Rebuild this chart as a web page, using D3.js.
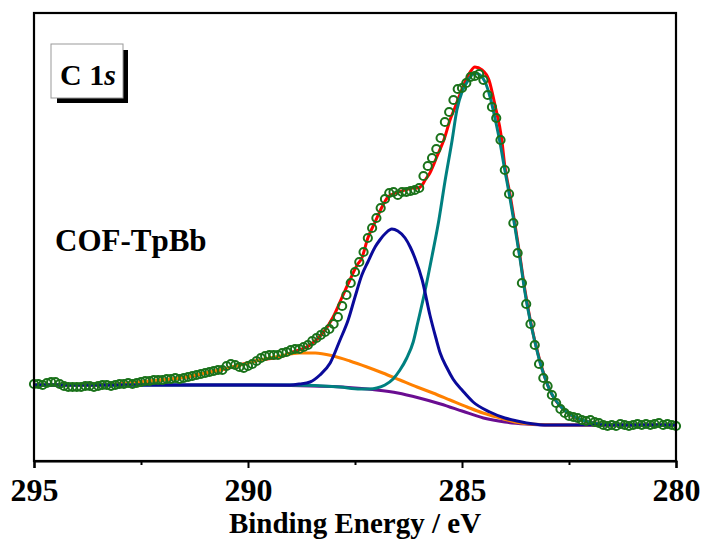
<!DOCTYPE html>
<html>
<head>
<meta charset="utf-8">
<script src="https://cdn.jsdelivr.net/npm/d3@7"></script>
<style>
  body { margin: 0; background: #fff; }
  text { font-family: "Liberation Serif", "Times New Roman", serif; font-weight: bold; }
</style>
</head>
<body>
<div id="chart"></div>
<script>
// measured spectrum: 0.1 eV steps from 295 eV down to 280 eV
const startEnergy = 295;
const stepEnergy = 0.1;
const measured = [
  77, 77, 76, 78, 79, 79, 77, 75, 74, 74,
  74, 74, 75, 75, 74, 75, 76, 76, 75, 76,
  77, 77, 78, 77, 78, 79, 80, 80, 81, 81,
  81, 82, 82, 83, 82, 83, 84, 85, 86, 87,
  88, 89, 90, 91, 91, 95, 97, 96, 94, 93,
  95, 97, 100, 103, 105, 106, 106, 106, 108, 109,
  111, 112, 112, 114, 116, 120, 123, 126, 129, 132,
  137, 144, 155, 166, 178, 189, 199, 209, 223, 233,
  243, 253, 262, 268, 269, 266, 269, 269, 270, 271,
  273, 285, 295, 303, 312, 323, 339, 349, 361, 372,
  373, 378, 384, 385, 387, 381, 366, 354, 343, 321,
  291, 267, 238, 208, 178, 157, 137, 116, 97, 83,
  75, 66, 58, 52, 48, 45, 44, 43, 41, 40,
  41, 39, 38, 36, 35, 36, 35, 37, 36, 35,
  36, 37, 36, 37, 36, 37, 38, 36, 37, 36, 35
];

// fitted curves (energy knots, intensity)
const bgE = [295, 290, 289, 288, 287.5, 287, 286.5, 286, 285.5, 285, 284.5, 284, 283.5, 283, 280];
const bgI = [76, 76, 75.5, 74.5, 73, 71, 68, 63, 57, 50, 43, 39, 37, 36, 36];

const orangeE = [295, 293.46, 292.99, 292.52, 292.06, 291.59, 291.12, 290.65, 290.19, 289.72, 289.25, 288.79, 288.43, 288.01, 287.62, 287.22, 286.85, 286.45, 286.05, 285.68, 285.28, 284.88, 284.51, 284.11, 283.76, 283.41, 282.71, 280];
const orangeI = [76, 76, 77, 79, 81, 83, 87, 91, 96, 101, 105, 108, 108, 105, 100, 94, 88, 81, 74, 68, 61, 54, 48, 43, 39, 37, 36, 36];

const blueE = [295, 289.25, 289.02, 288.79, 288.55, 288.32, 288.08, 287.85, 287.66, 287.5, 287.34, 287.2, 287.03, 286.92, 286.78, 286.64, 286.5, 286.33, 286.21, 286.1, 285.93, 285.75, 285.61, 285.51, 285.35, 285.21, 284.98, 284.74, 284.35, 284.0, 283.71, 283.06, 280];
const blueI = [76, 76, 76, 77, 79, 86, 98, 121, 141, 164, 186, 199, 214, 221, 228, 232, 230, 223, 214, 203, 181, 146, 123, 108, 93, 82, 70, 59, 49, 43, 40, 36, 36];

const tealE = [295, 289.02, 287.85, 287.38, 287.15, 286.99, 286.8, 286.61, 286.45, 286.29, 286.14, 286.03, 285.86, 285.7, 285.54, 285.4, 285.23, 285.12, 285, 284.88, 284.79, 284.7, 284.58, 284.46, 284.35, 284.23, 284.11, 284, 283.88, 283.76, 283.64, 283.53, 283.41, 283.29, 283.18, 283.06, 282.94, 282.8, 282.59, 282.36, 282.13, 281.78, 281.31, 280];
const tealI = [76, 76, 74, 72, 72, 73, 76, 82, 91, 103, 119, 139, 171, 205, 241, 279, 321, 351, 369, 379, 385, 388, 386, 379, 365, 343, 318, 291, 263, 233, 201, 169, 141, 118, 99, 83, 70, 60, 50, 44, 40, 37, 36, 36];

const sumE = [295, 293.46, 292.52, 291.59, 290.65, 289.72, 289.18, 288.95, 288.55, 288.25, 288.01, 287.8, 287.62, 287.45, 287.34, 287.2, 287.03, 286.87, 286.73, 286.61, 286.33, 286.14, 286.03, 285.93, 285.86, 285.75, 285.59, 285.4, 285.28, 285.16, 284.98, 284.81, 284.7, 284.53, 284.37, 284.23, 284.07, 284, 283.88, 283.76, 283.64, 283.53, 283.41, 283.18, 282.94, 282.59, 282.13, 281.31, 280];
const sumI = [76, 76, 79, 83, 91, 101, 105, 109, 116, 128, 144, 164, 181, 196, 203, 223, 239, 254, 264, 267, 271, 273, 273, 276, 281, 288, 304, 324, 341, 354, 374, 389, 394, 391, 381, 356, 321, 295, 267, 236, 203, 171, 142, 100, 70, 50, 40, 36, 36];

const majorTicks = [295, 290, 285, 280];
const minorTicks = [292.5, 287.5, 282.5];

const width = 701;
const height = 542;

const marginLeft = 34;
const marginRight = 25;
const marginTop = 13;
const marginBottom = 81;

const svg = d3.select('#chart').append('svg')
  .attr('width', width)
  .attr('height', height);

const x = d3.scaleLinear()
  .domain([295, 280])
  .range([marginLeft, width - marginRight]);

const y = d3.scaleLinear()
  .domain([0, 448])
  .range([height - marginBottom, marginTop]);

const toPoints = (es, is) => es.map((e, i) => [e, is[i]]);

const line = d3.line()
  .x(d => x(d[0]))
  .y(d => y(d[1]))
  .curve(d3.curveMonotoneX);

// curves, back to front
const curves = [
  { pts: toPoints(bgE, bgI), color: '#6a0d91' },
  { pts: toPoints(sumE, sumI), color: '#ff0000' },
  { pts: toPoints(orangeE, orangeI), color: '#ff8000' },
  { pts: toPoints(tealE, tealI), color: '#008080' },
  { pts: toPoints(blueE, blueI), color: '#0a0a9a' }
];

svg.selectAll('.fit')
  .data(curves)
  .enter().append('path')
  .attr('class', 'fit')
  .attr('d', d => line(d.pts))
  .attr('fill', 'none')
  .attr('stroke', d => d.color)
  .attr('stroke-width', 3);

// measured points as open circles
svg.selectAll('.pt')
  .data(measured)
  .enter().append('circle')
  .attr('class', 'pt')
  .attr('cx', (d, i) => x(startEnergy - i * stepEnergy))
  .attr('cy', d => y(d))
  .attr('r', 4.1)
  .attr('fill', 'none')
  .attr('stroke', '#1a721a')
  .attr('stroke-width', 2);

// frame
svg.append('rect')
  .attr('x', marginLeft)
  .attr('y', marginTop)
  .attr('width', width - marginLeft - marginRight)
  .attr('height', height - marginTop - marginBottom)
  .attr('fill', 'none')
  .attr('stroke', '#000')
  .attr('stroke-width', 2.2);

// x axis
const xAxis = svg.append('g')
  .attr('transform', `translate(0, ${height - marginBottom})`)
  .call(d3.axisBottom(x).tickValues(majorTicks).tickSize(7).tickPadding(10).tickFormat(d3.format('d')));
xAxis.select('.domain').attr('stroke-width', 2.2);
xAxis.selectAll('.tick line').attr('stroke-width', 2);
xAxis.selectAll('.tick text')
  .attr('font-size', 32)
  .attr('font-family', '"Liberation Serif", "Times New Roman", serif')
  .attr('font-weight', 'bold')
  .attr('fill', '#000');

const minor = svg.append('g')
  .attr('transform', `translate(0, ${height - marginBottom})`)
  .call(d3.axisBottom(x).tickValues(minorTicks).tickSize(4).tickFormat(''));
minor.select('.domain').remove();
minor.selectAll('.tick line').attr('stroke-width', 2);

svg.append('text')
  .attr('x', (marginLeft + width - marginRight) / 2)
  .attr('y', 533)
  .attr('text-anchor', 'middle')
  .attr('font-size', 29)
  .text('Binding Energy / eV');

// label box with shadow
svg.append('rect')
  .attr('x', 57).attr('y', 50)
  .attr('width', 71).attr('height', 53)
  .attr('fill', '#000');
svg.append('rect')
  .attr('x', 51).attr('y', 44)
  .attr('width', 72).attr('height', 54)
  .attr('fill', '#fff')
  .attr('stroke', '#999')
  .attr('stroke-width', 1);

const label = svg.append('text')
  .attr('x', 60)
  .attr('y', 85)
  .attr('font-size', 30);
label.append('tspan').text('C 1');
label.append('tspan').attr('font-style', 'italic').text('s');

svg.append('text')
  .attr('x', 55)
  .attr('y', 251)
  .attr('font-size', 31)
  .text('COF-TpBb');
</script>
</body>
</html>
